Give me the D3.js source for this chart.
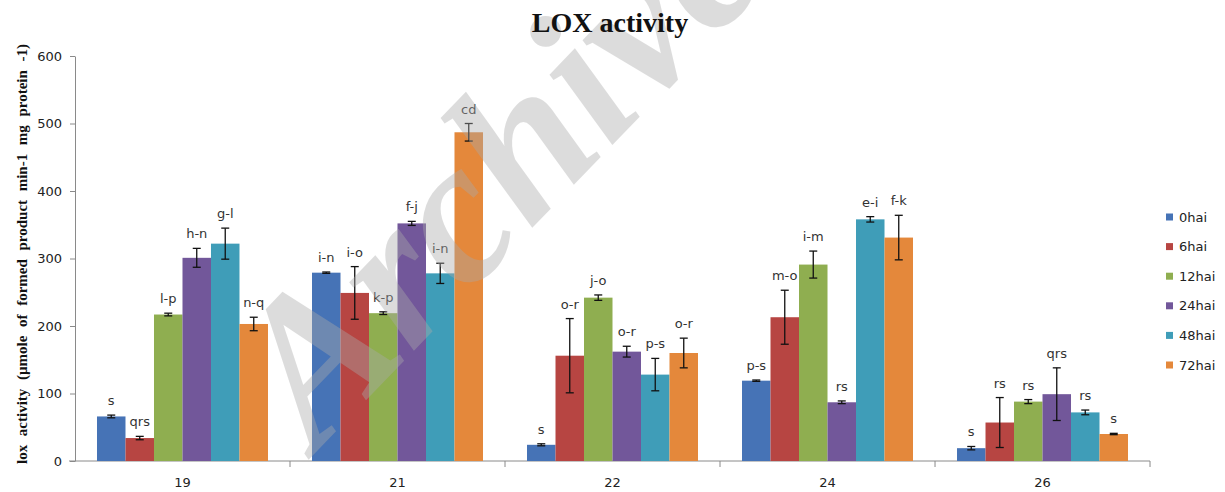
<!DOCTYPE html>
<html>
<head>
<meta charset="utf-8">
<script src="https://cdn.jsdelivr.net/npm/d3@7"></script>
<style>
  html, body { margin: 0; padding: 0; background: #fff; }
  svg { display: block; }
</style>
</head>
<body>
<svg id="chart" width="1225" height="492"></svg>
<script>
// Days (x categories) and sampling times (series)
const categories = ["19", "21", "22", "24", "26"];
const seriesNames = ["0hai", "6hai", "12hai", "24hai", "48hai", "72hai"];
const seriesColors = ["#4673b6", "#b74542", "#8fae50", "#72579a", "#3f9db8", "#e4883b"];

// Mean LOX activity per series, one value per category
const hai0  = [66, 279, 24, 119, 19];
const hai6  = [34, 249, 156, 213, 57];
const hai12 = [217, 219, 242, 291, 88];
const hai24 = [301, 352, 162, 87, 99];
const hai48 = [322, 278, 128, 358, 72];
const hai72 = [203, 487, 160, 331, 40];

// Standard errors
const err0  = [2, 1, 1.5, 1, 2.5];
const err6  = [2.5, 39, 55, 40, 37];
const err12 = [2, 2, 4, 20, 3];
const err24 = [14, 3, 8, 2, 39];
const err48 = [23, 15, 24, 4, 3.5];
const err72 = [10, 13, 22, 33, 1];

// Mean-separation letters
const let0  = ["s", "i-n", "s", "p-s", "s"];
const let6  = ["qrs", "i-o", "o-r", "m-o", "rs"];
const let12 = ["l-p", "k-p", "j-o", "i-m", "rs"];
const let24 = ["h-n", "f-j", "o-r", "rs", "qrs"];
const let48 = ["g-l", "i-n", "p-s", "e-i", "rs"];
const let72 = ["n-q", "cd", "o-r", "f-k", "s"];

const yTicks = [0, 100, 200, 300, 400, 500, 600];

const values = [hai0, hai6, hai12, hai24, hai48, hai72];
const errors = [err0, err6, err12, err24, err48, err72];
const letters = [let0, let6, let12, let24, let48, let72];

const rows = [];
categories.forEach((c, ci) => {
  seriesNames.forEach((s, si) => {
    rows.push({ cat: c, series: s, si, value: values[si][ci], err: errors[si][ci], letter: letters[si][ci] });
  });
});

const svg = d3.select("#chart");
const plotLeft = 75, plotRight = 1150, plotTop = 56, plotBottom = 461;

const x0 = d3.scaleBand().domain(categories).range([plotLeft, plotRight])
  .paddingInner(0.2047).paddingOuter(0.1023);
const x1 = d3.scaleBand().domain(seriesNames).range([0, x0.bandwidth()]);
const y = d3.scaleLinear().domain([0, 600]).range([plotBottom, plotTop]);
const color = d3.scaleOrdinal().domain(seriesNames).range(seriesColors);

const axisColor = "#8a8a8a";
const sansFont = "'DejaVu Sans', Verdana, sans-serif";
const serifFont = "'Liberation Serif', 'Times New Roman', serif";

// Y axis
const yAxis = svg.append("g")
  .attr("transform", `translate(${plotLeft},0)`)
  .call(d3.axisLeft(y).tickValues(yTicks).tickSize(5).tickSizeOuter(0).tickPadding(8));
yAxis.select(".domain").attr("stroke", axisColor);
yAxis.selectAll(".tick line").attr("stroke", axisColor);
yAxis.selectAll(".tick text").attr("fill", "#222").style("font", `13px ${sansFont}`);

// X axis: category labels centred under groups, ticks at group boundaries
const xAxis = svg.append("g")
  .attr("transform", `translate(0,${plotBottom})`)
  .call(d3.axisBottom(x0).tickSize(0).tickSizeOuter(0).tickPadding(17));
xAxis.select(".domain").remove();
xAxis.selectAll(".tick text").attr("fill", "#222").style("font", `13px ${sansFont}`);

const boundaries = d3.range(categories.length + 1).map(i => plotLeft + i * x0.step());
svg.append("line")
  .attr("x1", plotLeft - 6).attr("x2", plotRight)
  .attr("y1", plotBottom).attr("y2", plotBottom)
  .attr("stroke", axisColor);
svg.append("g").selectAll("line").data(boundaries.slice(1)).join("line")
  .attr("x1", d => d).attr("x2", d => d)
  .attr("y1", plotBottom).attr("y2", plotBottom + 6)
  .attr("stroke", axisColor);

// Bars
const groups = svg.append("g").selectAll("g").data(categories).join("g")
  .attr("transform", d => `translate(${x0(d)},0)`);

groups.selectAll("rect")
  .data(c => rows.filter(r => r.cat === c))
  .join("rect")
  .attr("x", d => x1(d.series))
  .attr("width", x1.bandwidth())
  .attr("y", d => y(d.value))
  .attr("height", d => y(0) - y(d.value))
  .attr("fill", d => color(d.series));

// Diagonal watermark overlay
svg.append("text")
  .attr("transform", "translate(316,452) rotate(-46)")
  .attr("fill", "#aaaaaa")
  .attr("opacity", 0.4)
  .style("font", `italic bold 205px ${serifFont}`)
  .text("Archive");

// Error bars
const capHalf = 4;
const eb = groups.selectAll("g.err")
  .data(c => rows.filter(r => r.cat === c))
  .join("g").attr("class", "err")
  .attr("stroke", "#111").attr("stroke-width", 1.3);
eb.append("line")
  .attr("x1", d => x1(d.series) + x1.bandwidth() / 2)
  .attr("x2", d => x1(d.series) + x1.bandwidth() / 2)
  .attr("y1", d => y(d.value + d.err))
  .attr("y2", d => y(d.value - d.err));
eb.append("line")
  .attr("x1", d => x1(d.series) + x1.bandwidth() / 2 - capHalf)
  .attr("x2", d => x1(d.series) + x1.bandwidth() / 2 + capHalf)
  .attr("y1", d => y(d.value + d.err))
  .attr("y2", d => y(d.value + d.err));
eb.append("line")
  .attr("x1", d => x1(d.series) + x1.bandwidth() / 2 - capHalf)
  .attr("x2", d => x1(d.series) + x1.bandwidth() / 2 + capHalf)
  .attr("y1", d => y(d.value - d.err))
  .attr("y2", d => y(d.value - d.err));

// Letter labels above each bar
groups.selectAll("text.letter")
  .data(c => rows.filter(r => r.cat === c))
  .join("text").attr("class", "letter")
  .attr("x", d => x1(d.series) + x1.bandwidth() / 2)
  .attr("y", d => y(d.value + d.err) - 10)
  .attr("text-anchor", "middle")
  .attr("fill", "#333")
  .style("font", `13px ${sansFont}`)
  .text(d => d.letter);

// Legend
const legend = svg.append("g").attr("transform", "translate(1166,217)");
const li = legend.selectAll("g").data(seriesNames).join("g")
  .attr("transform", (d, i) => `translate(0,${i * 29.6})`);
li.append("rect").attr("x", 0).attr("y", -3.5).attr("width", 7).attr("height", 7)
  .attr("fill", d => color(d));
li.append("text").attr("x", 13).attr("y", 0).attr("dy", "0.35em")
  .attr("fill", "#222").style("font", `13px ${sansFont}`)
  .text(d => d);

// Title
svg.append("text")
  .attr("x", 610).attr("y", 32)
  .attr("text-anchor", "middle")
  .attr("fill", "#111")
  .style("font", `bold 28px ${serifFont}`)
  .text("LOX activity");

// Y axis title, words spread to span the axis height
const yTitle = svg.append("text")
  .attr("transform", "translate(27,254) rotate(-90)")
  .attr("text-anchor", "middle")
  .attr("fill", "#111")
  .style("font", `bold 15px ${serifFont}`)
  .text("lox activity (\u00b5mole of formed product min-1 mg protein -1)");
const natural = yTitle.node().getComputedTextLength();
const spaces = yTitle.text().split(" ").length - 1;
yTitle.style("word-spacing", `${Math.max(0, (420 - natural) / spaces)}px`);
</script>
</body>
</html>
